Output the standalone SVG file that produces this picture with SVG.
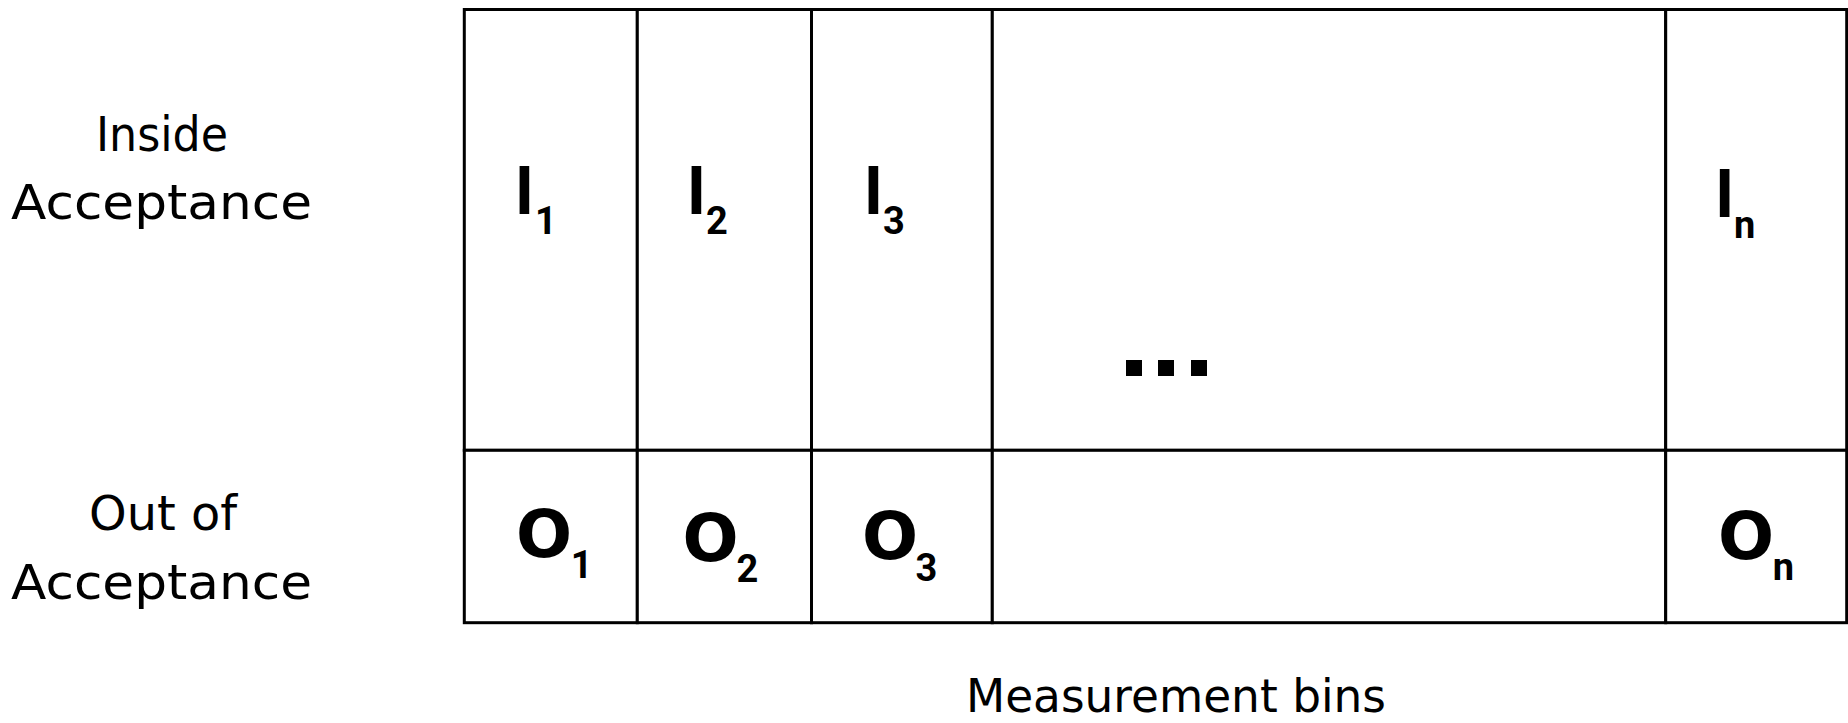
<svg xmlns="http://www.w3.org/2000/svg" width="1848" height="723" viewBox="0 0 1848 723">
<style>
.cell{fill:#fff;stroke:#000;stroke-width:3}
.lbl{font-family:"DejaVu Sans","Liberation Sans",sans-serif;font-size:48px;fill:#000;text-anchor:middle}
.big{font-family:Roboto,"DejaVu Sans",sans-serif;font-weight:bold;font-size:66px;fill:#000;text-anchor:middle}
.bigo{font-family:"DejaVu Sans","Liberation Sans",sans-serif;font-weight:bold;font-size:66px;fill:#000;text-anchor:middle}
.sub{font-family:Roboto,"DejaVu Sans",sans-serif;font-weight:bold;font-size:38px;fill:#000}
.subm{font-family:Roboto,"DejaVu Sans",sans-serif;font-weight:bold;font-size:38px;fill:#000;text-anchor:middle}
.dot{fill:#000}
</style>
<rect x="0" y="0" width="1848" height="723" fill="#fff"/>
<g id="row-labels">
<text class="lbl" x="162" y="151" textLength="132" lengthAdjust="spacingAndGlyphs">Inside</text>
<text class="lbl" x="161.5" y="219" textLength="301" lengthAdjust="spacingAndGlyphs">Acceptance</text>
<text class="lbl" x="163" y="530" textLength="148" lengthAdjust="spacingAndGlyphs">Out of</text>
<text class="lbl" x="161.5" y="599" textLength="301" lengthAdjust="spacingAndGlyphs">Acceptance</text>
</g>
<g id="cell-I1"><rect class="cell" x="464.3" y="9.5" width="173" height="440.8"/><text class="big" x="524.5" y="214">I</text><text class="sub" x="535" y="234">1</text></g>
<g id="cell-I2"><rect class="cell" x="637.3" y="9.5" width="174.2" height="440.8"/><text class="big" x="696.5" y="214">I</text><text class="sub" x="706" y="234">2</text></g>
<g id="cell-I3"><rect class="cell" x="811.5" y="9.5" width="180.8" height="440.8"/><text class="big" x="873.5" y="214">I</text><text class="sub" x="883" y="234">3</text></g>
<g id="cell-Idots"><rect class="cell" x="992.3" y="9.5" width="673.4" height="440.8"/><rect class="dot" x="1126" y="360" width="16" height="16"/><rect class="dot" x="1158" y="360" width="16" height="16"/><rect class="dot" x="1191" y="360" width="16" height="16"/></g>
<g id="cell-In"><rect class="cell" x="1665.7" y="9.5" width="181" height="440.8"/><text class="big" x="1724.7" y="217">I</text><text class="sub" x="1734" y="237.7">n</text></g>
<g id="cell-O1"><rect class="cell" x="464.3" y="450.3" width="173" height="172.4"/><text class="bigo" x="544" y="557">O</text><text class="subm" x="581.6" y="578">1</text></g>
<g id="cell-O2"><rect class="cell" x="637.3" y="450.3" width="174.2" height="172.4"/><text class="bigo" x="710.5" y="561">O</text><text class="subm" x="747.5" y="582">2</text></g>
<g id="cell-O3"><rect class="cell" x="811.5" y="450.3" width="180.8" height="172.4"/><text class="bigo" x="890" y="559">O</text><text class="subm" x="926.5" y="581">3</text></g>
<g id="cell-Odots"><rect class="cell" x="992.3" y="450.3" width="673.4" height="172.4"/></g>
<g id="cell-On"><rect class="cell" x="1665.7" y="450.3" width="181" height="172.4"/><text class="bigo" x="1746" y="558.5">O</text><text class="subm" x="1783.5" y="580">n</text></g>
<g id="connectors"></g>
<g id="axis-label"><text class="lbl" x="1176" y="711.5" style="font-size:47px" textLength="420" lengthAdjust="spacingAndGlyphs">Measurement bins</text></g>
</svg>
